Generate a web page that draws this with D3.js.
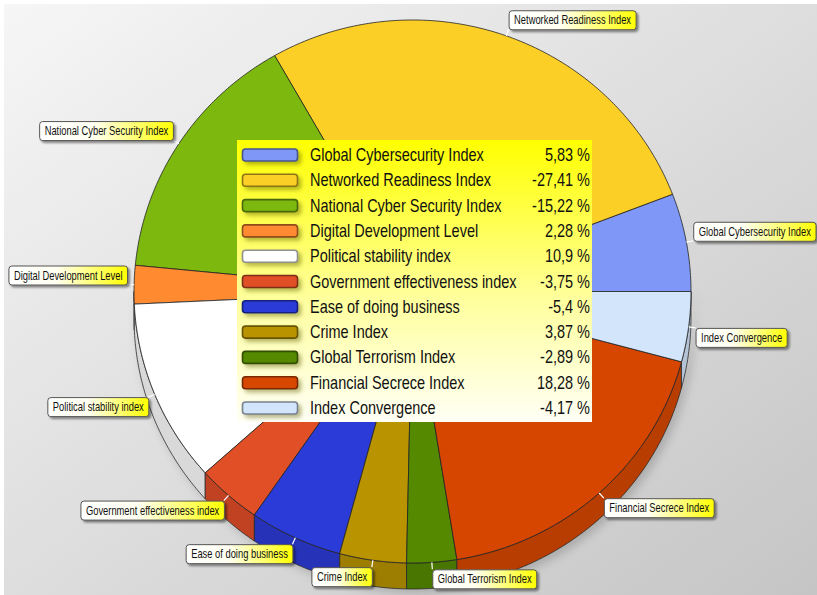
<!DOCTYPE html>
<html>
<head>
<meta charset="utf-8">
<script src="https://cdn.jsdelivr.net/npm/d3@7"></script>
<style>
  html, body { margin: 0; padding: 0; background: #ffffff; }
  svg { display: block; }
  text { font-family: "Liberation Sans", Arial, sans-serif; fill: #111; }
</style>
</head>
<body>
<svg id="chart" width="817" height="595"></svg>
<script>
// Indicator names, their signed shares (%) and slice colours
const categories = [
  "Global Cybersecurity Index",
  "Networked Readiness Index",
  "National Cyber Security Index",
  "Digital Development Level",
  "Political stability index",
  "Government effectiveness index",
  "Ease of doing business",
  "Crime Index",
  "Global Terrorism Index",
  "Financial Secrece Index",
  "Index Convergence"
];
const values = [5.83, -27.41, -15.22, 2.28, 10.9, -3.75, -5.4, 3.87, -2.89, 18.28, -4.17];
const valueLabels = ["5,83 %", "-27,41 %", "-15,22 %", "2,28 %", "10,9 %", "-3,75 %", "-5,4 %", "3,87 %", "-2,89 %", "18,28 %", "-4,17 %"];
const colors = ["#7f98f7", "#fbcf25", "#7cb80e", "#ff8a30", "#ffffff", "#e14f26", "#2b3bd8", "#b99400", "#558a00", "#d74600", "#d3e5fa"];

const W = 817, H = 595;
const svg = d3.select("#chart");

// Geometry of the tilted pie
const cx = 412.5, cy = 291.5, rx = 278.5, ry = 271.5, depth = 26;

const defs = svg.append("defs");

const bg = defs.append("linearGradient").attr("id", "bgGrad")
  .attr("x1", 0).attr("y1", 0).attr("x2", 1).attr("y2", 1);
bg.append("stop").attr("offset", "0%").attr("stop-color", "#f6f6f6");
bg.append("stop").attr("offset", "100%").attr("stop-color", "#c5c5c5");

const lg = defs.append("linearGradient").attr("id", "legendGrad")
  .attr("x1", 0).attr("y1", 0).attr("x2", 0).attr("y2", 1);
lg.append("stop").attr("offset", "0%").attr("stop-color", "#ffff00");
lg.append("stop").attr("offset", "55%").attr("stop-color", "#ffff9a");
lg.append("stop").attr("offset", "100%").attr("stop-color", "#fffff6");

const tg = defs.append("linearGradient").attr("id", "tagGrad")
  .attr("x1", 0).attr("y1", 0).attr("x2", 1).attr("y2", 0);
tg.append("stop").attr("offset", "0%").attr("stop-color", "#ffffff");
tg.append("stop").attr("offset", "40%").attr("stop-color", "#fffff2");
tg.append("stop").attr("offset", "100%").attr("stop-color", "#ffff00");

const sh = defs.append("filter").attr("id", "shadow")
  .attr("x", "-20%").attr("y", "-40%").attr("width", "150%").attr("height", "200%");
sh.append("feDropShadow").attr("dx", 2).attr("dy", 2).attr("stdDeviation", 1.2)
  .attr("flood-color", "#000").attr("flood-opacity", 0.45);

const sw = defs.append("filter").attr("id", "swShadow")
  .attr("x", "-20%").attr("y", "-50%").attr("width", "150%").attr("height", "250%");
sw.append("feDropShadow").attr("dx", 3).attr("dy", 3).attr("stdDeviation", 2)
  .attr("flood-color", "#5a5a00").attr("flood-opacity", 0.45);

const pieShadow = defs.append("filter").attr("id", "pieShadow")
  .attr("x", "-10%").attr("y", "-10%").attr("width", "125%").attr("height", "125%");
pieShadow.append("feDropShadow").attr("dx", 4).attr("dy", 4).attr("stdDeviation", 5)
  .attr("flood-color", "#000").attr("flood-opacity", 0.18);

// Background panel
svg.append("rect").attr("width", W).attr("height", H).attr("fill", "#ffffff");
svg.append("rect").attr("x", 4).attr("y", 4).attr("width", W - 4).attr("height", H - 4)
  .attr("fill", "url(#bgGrad)");

// Slice angles: counter-clockwise from east, sized by absolute share
const pie = d3.pie().sort(null).value(d => Math.abs(d.v)).startAngle(0).endAngle(2 * Math.PI);
const data = categories.map((c, i) => ({ name: c, v: values[i], label: valueLabels[i], color: colors[i] }));
const arcs = pie(data);

const px = t => cx + rx * Math.cos(t);
const py = t => cy - ry * Math.sin(t);
const line = d3.line();
function sample(a, b) {
  const n = Math.max(2, Math.ceil(Math.abs(b - a) / 0.01));
  return d3.range(n + 1).map(k => a + (b - a) * k / n);
}

const pieG = svg.append("g");

// Side wall (visible lower half)
const sideG = pieG.append("g").attr("filter", "url(#pieShadow)");
arcs.forEach(a => {
  const lo = Math.max(a.startAngle, Math.PI), hi = Math.min(a.endAngle, 2 * Math.PI);
  if (lo >= hi) return;
  const ts = sample(lo, hi);
  const pts = ts.map(t => [px(t), py(t)])
    .concat(ts.slice().reverse().map(t => [px(t), py(t) + depth]));
  sideG.append("path")
    .attr("d", line(pts) + "Z")
    .attr("fill", d3.color(a.data.color).darker(0.45))
    .attr("stroke", "#2a2a2a").attr("stroke-width", 0.8).attr("stroke-linejoin", "round");
});

// Top faces
arcs.forEach(a => {
  const pts = [[cx, cy]].concat(sample(a.startAngle, a.endAngle).map(t => [px(t), py(t)]));
  pieG.append("path")
    .attr("d", line(pts) + "Z")
    .attr("fill", a.data.color)
    .attr("stroke", "#222").attr("stroke-width", 0.8).attr("stroke-linejoin", "round");
});

// Callout tags with short leader lines
const tagG = svg.append("g");
const tagFont = 12, tagTarget = 117;
const probe = tagG.append("text").attr("font-size", tagFont).text("Networked Readiness Index");
const tagScale = tagTarget / probe.node().getComputedTextLength();
probe.remove();

arcs.forEach(a => {
  const m = (a.startAngle + a.endAngle) / 2;
  const ax = px(m), ay = py(m);
  const ex = ax + 7 * Math.cos(m), ey = ay - 7 * Math.sin(m);
  tagG.append("line").attr("x1", ax).attr("y1", ay).attr("x2", ex).attr("y2", ey)
    .attr("stroke", "#ffffff").attr("stroke-width", 1.2);

  const t = tagG.append("text").attr("font-size", tagFont).text(a.data.name);
  const tw = t.node().getComputedTextLength() * tagScale;
  t.remove();
  const bw = tw + 10, bh = 19;
  const bx = Math.cos(m) >= 0 ? ex : ex - bw;
  const by = Math.sin(m) >= 0 ? ey - bh : ey;

  const g = tagG.append("g").attr("transform", `translate(${bx},${by})`);
  g.append("rect").attr("x", 0.5).attr("y", 0.5).attr("width", bw).attr("height", bh)
    .attr("rx", 3).attr("fill", "url(#tagGrad)")
    .attr("stroke", "#555").attr("stroke-width", 1).attr("filter", "url(#shadow)");
  g.append("text")
    .attr("transform", `translate(5.5,${bh / 2 + 4.6}) scale(${tagScale},1)`)
    .attr("font-size", tagFont).text(a.data.name);
});

// Legend panel
const leg = svg.append("g");
const legX = 237, legY = 140, legW = 355, legH = 282;
leg.append("rect").attr("x", legX).attr("y", legY).attr("width", legW).attr("height", legH)
  .attr("fill", "url(#legendGrad)");

const legFont = 17.5;
const lp = leg.append("text").attr("font-size", legFont).text("Global Cybersecurity Index");
const legScale = 174 / lp.node().getComputedTextLength();
lp.remove();

const rowY = d3.scaleLinear().domain([0, categories.length - 1]).range([155, 408]);

data.forEach((d, i) => {
  const y = rowY(i);
  leg.append("rect").attr("x", 242.5).attr("y", y - 6).attr("width", 55).attr("height", 12)
    .attr("rx", 3).attr("fill", d.color)
    .attr("stroke", d3.color(d.color).darker(1.6)).attr("stroke-width", 1.6)
    .attr("filter", "url(#swShadow)");
  leg.append("text")
    .attr("transform", `translate(310,${y + 6}) scale(${legScale},1)`)
    .attr("font-size", legFont).text(d.name);
  leg.append("text")
    .attr("transform", `translate(590,${y + 6}) scale(${legScale},1)`)
    .attr("text-anchor", "end")
    .attr("font-size", legFont).text(d.label);
});
</script>
</body>
</html>
